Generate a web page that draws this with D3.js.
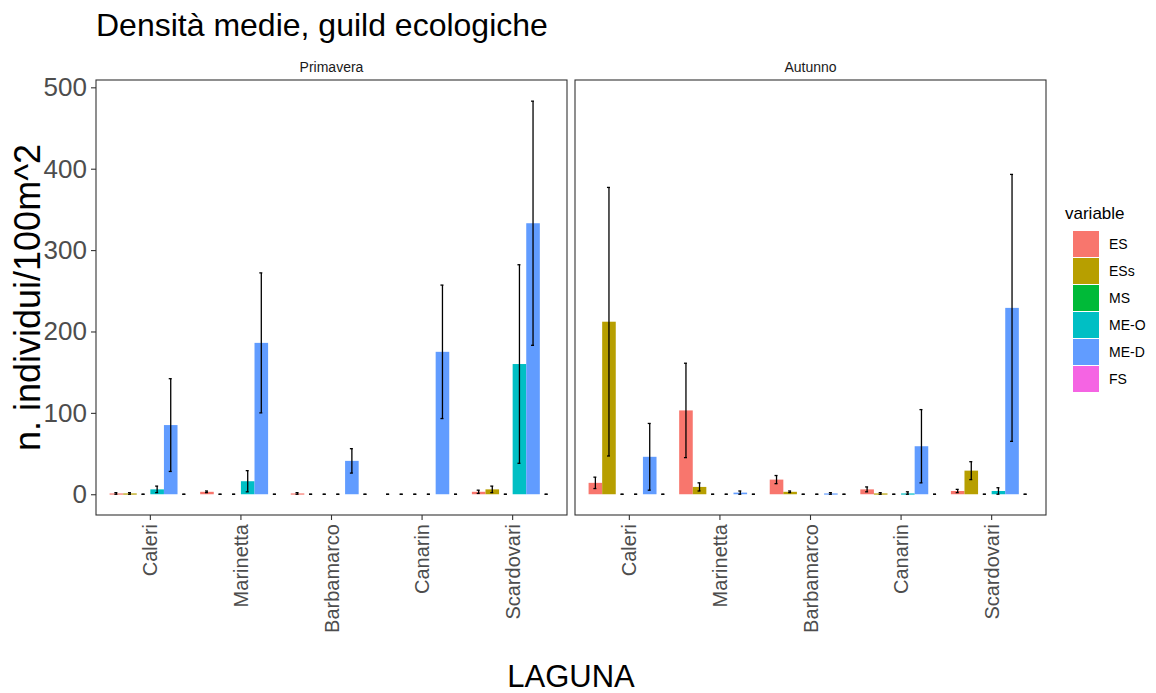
<!DOCTYPE html>
<html>
<head>
<meta charset="utf-8">
<script src="https://cdn.jsdelivr.net/npm/d3@7"></script>
<style>
  html, body { margin: 0; padding: 0; background: #fff; }
  svg { display: block; font-family: "Liberation Sans", Arial, sans-serif; }
</style>
</head>
<body>
<svg id="chart" width="1156" height="693"></svg>
<script>
// Lagune (x categories), guild ecologiche (fill), stagioni (facets)
const lagune = ["Caleri", "Marinetta", "Barbamarco", "Canarin", "Scardovari"];
const guilds = ["ES", "ESs", "MS", "ME-O", "ME-D", "FS"];
const stagioni = ["Primavera", "Autunno"];
const guildColors = ["#F8766D", "#B79F00", "#00BA38", "#00BFC4", "#619CFF", "#F564E3"];
const yTicks = [0, 100, 200, 300, 400, 500];

// Mean density per laguna (rows) and guild (columns)
const mediaPrimavera = [
  [1, 1, 0, 6, 85, 0],
  [3, 0, 0, 16, 186, 0],
  [1, 0, 0, 0, 41, 0],
  [0, 0, 0, 0, 175, 0],
  [3, 6, 0, 160, 333, 0]
];
const errPrimavera = [
  [1, 1, 0, 4, 57, 0],
  [1, 0, 0, 13, 86, 0],
  [1, 0, 0, 0, 15, 0],
  [0, 0, 0, 0, 82, 0],
  [2, 4, 0, 122, 150, 0]
];
const mediaAutunno = [
  [14, 212, 0, 0, 46, 0],
  [103, 9, 0, 0, 2, 0],
  [18, 3, 0, 0, 1, 0],
  [6, 1, 0, 1, 59, 0],
  [4, 29, 0, 4, 229, 0]
];
const errAutunno = [
  [7, 165, 0, 0, 41, 0],
  [58, 5, 0, 0, 2, 0],
  [5, 1, 0, 0, 1, 0],
  [3, 1, 0, 2, 45, 0],
  [2, 11, 0, 4, 164, 0]
];

const seasonData = {
  "Primavera": { media: mediaPrimavera, err: errPrimavera },
  "Autunno": { media: mediaAutunno, err: errAutunno }
};

const svg = d3.select("#chart");
const panelTop = 80, panelBottom = 515;
const panels = [
  { name: stagioni[0], x0: 96, x1: 567 },
  { name: stagioni[1], x0: 575, x1: 1046 }
];

const y = d3.scaleLinear().domain([-25.5, 509]).range([panelBottom, panelTop]);
const color = d3.scaleOrdinal().domain(guilds).range(guildColors);

const axisGrey = "#4D4D4D";
const borderGrey = "#333333";

// Title
svg.append("text")
  .attr("x", 96).attr("y", 36)
  .attr("font-size", 32).attr("fill", "#000")
  .text("Densità medie, guild ecologiche");

panels.forEach((p, pi) => {
  const d = seasonData[p.name];
  // discrete axis with 0.6-unit expansion on each side
  const unit = (p.x1 - p.x0) / (lagune.length - 1 + 1.2);
  const xc = name => p.x0 + unit * (0.6 + lagune.indexOf(name));
  const xs = d3.scaleBand().domain(guilds).range([-0.45 * unit, 0.45 * unit]);

  const g = svg.append("g");

  // strip label
  g.append("text")
    .attr("x", (p.x0 + p.x1) / 2).attr("y", 72)
    .attr("text-anchor", "middle").attr("font-size", 14).attr("fill", "#1A1A1A")
    .text(p.name);

  const rows = [];
  lagune.forEach((lg, li) => {
    guilds.forEach((gu, gi) => {
      rows.push({ laguna: lg, guild: gu, v: d.media[li][gi], e: d.err[li][gi] });
    });
  });

  // bars
  g.selectAll("rect.bar").data(rows.filter(r => r.v > 0)).join("rect")
    .attr("class", "bar")
    .attr("x", r => xc(r.laguna) + xs(r.guild))
    .attr("width", xs.bandwidth())
    .attr("y", r => y(r.v))
    .attr("height", r => Math.max(y(0) - y(r.v), 1.2))
    .attr("fill", r => color(r.guild));

  // error bars
  const eb = g.selectAll("g.err").data(rows).join("g").attr("class", "err")
    .attr("transform", r => `translate(${xc(r.laguna) + xs(r.guild) + xs.bandwidth() / 2},0)`);
  eb.append("line")
    .attr("x1", 0).attr("x2", 0)
    .attr("y1", r => y(Math.max(r.v - r.e, 0)))
    .attr("y2", r => y(r.v + r.e))
    .attr("stroke", "#000").attr("stroke-width", 1.3);
  eb.append("line")
    .attr("x1", -2).attr("x2", 1)
    .attr("y1", r => y(r.v + r.e)).attr("y2", r => y(r.v + r.e))
    .attr("stroke", "#000").attr("stroke-width", 1.3);
  eb.append("line")
    .attr("x1", -2).attr("x2", 1)
    .attr("y1", r => y(Math.max(r.v - r.e, 0))).attr("y2", r => y(Math.max(r.v - r.e, 0)))
    .attr("stroke", "#000").attr("stroke-width", 1.3);

  // panel border
  g.append("rect")
    .attr("x", p.x0).attr("y", panelTop)
    .attr("width", p.x1 - p.x0).attr("height", panelBottom - panelTop)
    .attr("fill", "none").attr("stroke", borderGrey).attr("stroke-width", 1.1);

  // x axis ticks and rotated labels
  lagune.forEach(lg => {
    const cx = xc(lg);
    g.append("line")
      .attr("x1", cx).attr("x2", cx)
      .attr("y1", panelBottom).attr("y2", panelBottom + 5)
      .attr("stroke", borderGrey).attr("stroke-width", 1.1);
    g.append("text")
      .attr("transform", `translate(${cx},${panelBottom + 9}) rotate(-90)`)
      .attr("text-anchor", "end").attr("dominant-baseline", "central")
      .attr("font-size", 20).attr("fill", axisGrey)
      .text(lg);
  });

  // y axis on first panel only
  if (pi === 0) {
    const yAxis = d3.axisLeft(y).tickValues(yTicks).tickSize(5).tickPadding(4);
    const ya = svg.append("g").attr("transform", `translate(${p.x0},0)`).call(yAxis);
    ya.select(".domain").remove();
    ya.selectAll(".tick line").attr("stroke", borderGrey).attr("stroke-width", 1.1);
    ya.selectAll(".tick text").attr("font-size", 26).attr("fill", axisGrey)
      .attr("font-family", "Liberation Sans, Arial, sans-serif");
  }
});

// axis titles
svg.append("text")
  .attr("transform", `translate(40,${(panelTop + panelBottom) / 2}) rotate(-90)`)
  .attr("text-anchor", "middle").attr("font-size", 36).attr("fill", "#000")
  .text("n. individui/100m^2");

svg.append("text")
  .attr("x", (96 + 1046) / 2).attr("y", 687)
  .attr("text-anchor", "middle").attr("font-size", 31).attr("fill", "#000")
  .text("LAGUNA");

// legend
const leg = svg.append("g").attr("transform", "translate(1065,0)");
leg.append("text").attr("x", 0).attr("y", 219)
  .attr("font-size", 17).attr("fill", "#000").text("variable");
guilds.forEach((gu, i) => {
  const ky = 231 + i * 27;
  leg.append("rect").attr("x", 8).attr("y", ky).attr("width", 26).attr("height", 26)
    .attr("fill", color(gu));
  leg.append("text").attr("x", 44).attr("y", ky + 13)
    .attr("dominant-baseline", "central")
    .attr("font-size", 14).attr("fill", "#000").text(gu);
});
</script>
</body>
</html>
